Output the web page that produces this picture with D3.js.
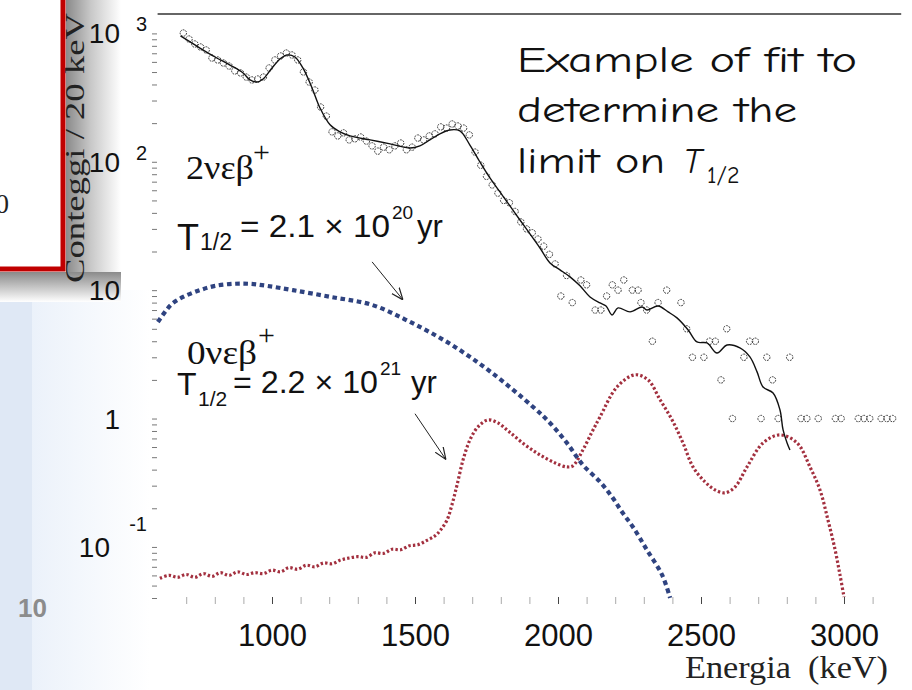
<!DOCTYPE html>
<html><head><meta charset="utf-8">
<script src="https://cdn.jsdelivr.net/npm/d3@7"></script>
<style>html,body{margin:0;padding:0;background:#fff;} svg{display:block;}</style>
</head><body>
<svg id="chart" width="912" height="690"></svg>
<script>
// ---------- data ----------
const xTickValues = [700,800,900,1000,1100,1200,1300,1400,1500,1600,1700,1800,1900,2000,2100,2200,2300,2400,2500,2600,2700,2800,2900,3000,3100];
const xLabelValues = [1000,1500,2000,2500,3000];
const yDecades = [1000,100,10,1,0.1];
const yDecadeBase = ["10","10","10","1","10"];
const yDecadeExp = ["3","2","","","-1"];

// measured spectrum (counts / 20 keV)
const dataE = [690,710,730,750,770,790,810,830,850,870,890,910,930,950,970,990,1010,1030,1050,1070,1090,1110,1130,1150,1170,1190,1210,1230,1250,1270,1290,1310,1330,1350,1370,1390,1410,1430,1450,1470,1490,1510,1530,1550,1570,1590,1610,1630,1650,1670,1690,1710,1730,1750,1770,1790,1810,1830,1850,1870,1890,1910,1930,1950,1970,1990,
  2010,2030,2050,2080,2100,2130,2150,2170,2190,2210,2230,2260,2280,2290,2310,2330,2350,2380,2430,2450,2470,2510,2530,2550,2570,2590,2610,2650,2670,2690,2710,2730,2750,2770,2810,2850,2870,2910,2970,2990,3050,3070,3090,3130,3150,3170];
const dataV = [1007,904,827,784,743,643,621,588,557,510,492,457,434,441,457,538,621,667,703,679,621,501,418,362,267,227,171,159,168,148,151,156,145,133,121,130,124,133,140,124,130,153,148,159,165,187,183,197,190,183,162,119,94,77,66,57,50,48,41,34,30,28,25,22,19,16,
  9,13,8,12,11,7,7,9,11,10,12,10,10,8,7,4,8,10,8,5,3,3,4,4,2,5,1,3,4,4,1,3,2,1,3,1,1,1,1,1,1,1,1,1,1,1];

// fit
const fitE = [680,748,801,853,899,923,948,969,1000,1028,1052,1080,1108,1140,1168,1203,1238,1273,1343,1413,1483,1517,1552,1587,1622,1657,1692,1727,1762,1797,1832,1867,1902,1937,1972,2007,2042,2077,2112,2147,2168,2189,2210,2252,2294,2311,2350,2385,2416,2455,2486,2521,2556,2591,2636,2671,2696,2717,2752,2776,2787,2801,2811];
const fitV = [955,769,655,567,492,434,418,441,538,632,679,655,538,376,262,194,171,159,148,138,128,133,148,165,177,174,135,99.6,74.8,58.2,45.3,35.2,27.4,21.3,16.3,14.4,12.7,10.8,8.85,7.95,7.53,6.41,7.27,6.77,7.40,7.01,7.53,6.77,6.08,4.90,3.95,3.88,3.24,3.74,3.55,3.02,2.31,1.76,1.58,1.17,0.815,0.645,0.569];

// 2 nu EC beta+ (T1/2 = 2.1e20 yr)
const twoNuE = [601,626,650,689,748,801,864,923,983,1073,1206,1350,1490,1629,1769,1913,1972,2031,2087,2147,2189,2224,2262,2311,2364,2392];
const twoNuV = [5.65,6.77,7.81,8.85,10.0,10.8,11.2,11.2,10.8,10.0,8.85,7.67,5.55,3.74,2.27,1.23,0.924,0.646,0.435,0.321,0.245,0.187,0.143,0.0947,0.0605,0.0401];

// 0 nu EC beta+ (T1/2 = 2.2e21 yr)
const zeroNuE = [608,640,670,700,730,760,790,820,850,880,910,940,970,1000,1030,1060,1090,1120,1150,1180,1210,1240,1270,1300,1330,1360,1390,1420,1450,1480,1510,1540,1570,1590,1612,1629,1647,1668,1692,1720,1755,1790,1830,1885,1937,1990,2031,2052,2087,2119,2147,2206,2269,2315,2357,2399,2437,2472,2514,2549,2584,2619,2661,2717,2776,2836,2881,2916,2944,2969,2986,3000];
const zeroNuV = [0.057,0.060,0.058,0.061,0.058,0.062,0.059,0.063,0.060,0.064,0.061,0.063,0.062,0.066,0.064,0.069,0.067,0.072,0.070,0.075,0.074,0.079,0.082,0.084,0.083,0.090,0.089,0.096,0.095,0.102,0.104,0.112,0.122,0.136,0.162,0.212,0.304,0.476,0.681,0.861,0.975,0.924,0.787,0.623,0.521,0.451,0.420,0.428,0.569,0.787,1.03,1.76,2.19,2.0,1.40,0.975,0.646,0.420,0.321,0.278,0.264,0.293,0.420,0.646,0.745,0.646,0.420,0.278,0.162,0.0947,0.0605,0.0408];

// annotation arrows (data coords: from -> to)
const arrowFromE = [1350,1500], arrowFromV = [16.6,1.09];
const arrowToE = [1458,1608],  arrowToV = [8.4,0.48];

// ---------- drawing ----------
const svg = d3.select("#chart");
const defs = svg.append("defs");

// slide decorations
const gShadowR = defs.append("linearGradient").attr("id","shR").attr("x1","0").attr("x2","1").attr("y1","0").attr("y2","0");
gShadowR.append("stop").attr("offset","0").attr("stop-color","#8a8a8a");
gShadowR.append("stop").attr("offset","0.45").attr("stop-color","#c8c8c8");
gShadowR.append("stop").attr("offset","1").attr("stop-color","#ffffff");
const gShadowB = defs.append("linearGradient").attr("id","shB").attr("x1","0").attr("x2","0").attr("y1","0").attr("y2","1");
gShadowB.append("stop").attr("offset","0").attr("stop-color","#8a8a8a");
gShadowB.append("stop").attr("offset","1").attr("stop-color","#ffffff");
const gBlue = defs.append("linearGradient").attr("id","blueL").attr("x1","0").attr("x2","1").attr("y1","0").attr("y2","0");
gBlue.append("stop").attr("offset","0").attr("stop-color","#e6eef9");
gBlue.append("stop").attr("offset","1").attr("stop-color","#ffffff");

svg.append("rect").attr("x",0).attr("y",290).attr("width",150).attr("height",400).attr("fill","url(#blueL)");
svg.append("rect").attr("x",0).attr("y",290).attr("width",32).attr("height",400).attr("fill","#dfe8f5");
svg.append("rect").attr("x",66).attr("y",0).attr("width",55).attr("height",300).attr("fill","url(#shR)");
svg.append("rect").attr("x",0).attr("y",272).attr("width",121).attr("height",30).attr("fill","url(#shB)");
svg.append("rect").attr("x",-10).attr("y",-10).attr("width",73).attr("height",279).attr("fill","#fff").attr("stroke","#c00000").attr("stroke-width",5);
svg.append("text").attr("x",9).attr("y",213).attr("text-anchor","end").attr("font-family","Liberation Serif").attr("font-size",27).attr("fill","#222").text("0");
svg.append("text").attr("x",18).attr("y",617).attr("font-family","Liberation Sans").attr("font-weight","bold").attr("font-size",26).attr("fill","#8c8c8c").text("10");

const x = d3.scaleLinear().domain([600,3200]).range([157.6,901.2]);
const y = d3.scaleLog().domain([0.0386,1416]).range([600,14]);

// top frame line
svg.append("line").attr("x1",x(600)).attr("x2",x(3200)).attr("y1",y(1416)).attr("y2",y(1416)).attr("stroke","#333").attr("stroke-width",1.6);

// x ticks
const xt = svg.append("g").attr("transform","translate(0,597)")
  .call(d3.axisBottom(x).tickValues(xTickValues).tickSize(7).tickFormat(""));
xt.select(".domain").remove();
xt.selectAll(".tick line").attr("stroke",d=>d%500===0?"#444":"#aaa").attr("stroke-width",1);

const xl = svg.append("g").attr("transform","translate(0,597)")
  .call(d3.axisBottom(x).tickValues(xLabelValues).tickSize(0).tickPadding(27).tickFormat(d3.format("d")));
xl.select(".domain").remove();
xl.selectAll("text").attr("font-family","Liberation Sans").attr("font-size",31).attr("fill","#111");

// y ticks
const yt = svg.append("g").attr("transform","translate(157,0)")
  .call(d3.axisLeft(y).tickValues(y.ticks()).tickSize(5).tickFormat(""));
yt.select(".domain").remove();
yt.selectAll(".tick line").attr("stroke","#777").attr("stroke-width",1);

// y decade labels
yDecades.forEach((v,i)=>{
  const yy = y(v);
  const hasExp = yDecadeExp[i] !== "";
  const endX = (v===0.1) ? 110 : 120;
  svg.append("text").attr("x",endX).attr("y",yy+10).attr("text-anchor","end")
    .attr("font-family","Liberation Sans").attr("font-size",28).attr("fill","#111").text(yDecadeBase[i]);
  if (hasExp) {
    svg.append("text").attr("x",147).attr("y", v===0.1 ? yy-16 : yy-2).attr("text-anchor","end")
      .attr("font-family","Liberation Sans").attr("font-size",20).attr("fill","#111").text(yDecadeExp[i]);
  }
});

// axis titles
svg.append("text").attr("transform","translate(84,148) rotate(-90)").attr("text-anchor","middle")
  .attr("font-family","Liberation Serif").attr("font-size",28).attr("fill","#222")
  .attr("textLength",270).attr("lengthAdjust","spacingAndGlyphs").text("Conteggi / 20 keV");
svg.append("text").attr("x",888).attr("y",678).attr("text-anchor","end")
  .attr("font-family","Liberation Serif").attr("font-size",31).attr("fill","#222")
  .attr("textLength",203).attr("lengthAdjust","spacingAndGlyphs")
  .text("Energia\u00a0\u00a0(keV)");

const line = d3.line().x(d=>x(d[0])).y(d=>y(d[1])).curve(d3.curveCatmullRom.alpha(0.5));

// curves
svg.append("path").datum(zeroNuE.map((e,i)=>[e,zeroNuV[i]])).attr("d",line)
  .attr("fill","none").attr("stroke","#a3303f").attr("stroke-width",3.2).attr("stroke-dasharray","2.4,2.2");
svg.append("path").datum(twoNuE.map((e,i)=>[e,twoNuV[i]])).attr("d",line)
  .attr("fill","none").attr("stroke","#2f4380").attr("stroke-width",4.2).attr("stroke-dasharray","4.6,3.6");

// data points
svg.append("g").selectAll("circle").data(dataE.map((e,i)=>[e,dataV[i]])).join("circle")
  .attr("cx",d=>x(d[0])).attr("cy",d=>y(d[1])).attr("r",3.2)
  .attr("fill","none").attr("stroke","#333").attr("stroke-width",1).attr("stroke-dasharray","1.8,1");

// fit
svg.append("path").datum(fitE.map((e,i)=>[e,fitV[i]])).attr("d",line)
  .attr("fill","none").attr("stroke","#111").attr("stroke-width",1.4);

// arrows
defs.append("marker").attr("id","arr").attr("viewBox","0 0 10 10").attr("refX",10).attr("refY",5)
  .attr("markerWidth",12).attr("markerHeight",12).attr("orient","auto").attr("markerUnits","userSpaceOnUse")
  .append("path").attr("d","M0,1 L10,5 L0,9").attr("fill","none").attr("stroke","#222").attr("stroke-width",1);
arrowFromE.forEach((e,i)=>{
  svg.append("line").attr("x1",x(e)).attr("y1",y(arrowFromV[i])).attr("x2",x(arrowToE[i])).attr("y2",y(arrowToV[i]))
    .attr("stroke","#222").attr("stroke-width",1).attr("marker-end","url(#arr)");
});

// annotation texts
function txt(xp,yp,s,size,fam,extra){
  const t = svg.append("text").attr("x",xp).attr("y",yp).attr("font-family",fam).attr("font-size",size).attr("fill","#111").text(s);
  if (extra) extra(t);
  return t;
}
const SANS="Liberation Sans", SERIF="Liberation Serif";
txt(186,179,"2νεβ",34,SERIF,t=>t.attr("textLength",68).attr("lengthAdjust","spacingAndGlyphs"));
txt(253,162,"+",30,SERIF);
txt(177,250,"T",36,SANS);
txt(200,250,"1/2",23,SANS);
txt(240,237,"= 2.1 × 10",31,SANS,t=>t.attr("textLength",150).attr("lengthAdjust","spacingAndGlyphs"));
txt(392,219,"20",19,SANS);
txt(417,237,"yr",31,SANS);

txt(187,364,"0νεβ",34,SERIF,t=>t.attr("textLength",70).attr("lengthAdjust","spacingAndGlyphs"));
txt(258,345,"+",30,SERIF);
txt(177,395,"T",32,SANS);
txt(198,406,"1/2",21,SANS);
txt(233,393,"= 2.2 × 10",31,SANS,t=>t.attr("textLength",145).attr("lengthAdjust","spacingAndGlyphs"));
txt(380,375,"21",19,SANS);
txt(411,393,"yr",31,SANS);

const CS = "'Comic Sans MS','Comic Neue','DejaVu Sans',sans-serif";
txt(517,72,"Example of fit to",36,CS,t=>t.attr("textLength",340).attr("lengthAdjust","spacingAndGlyphs"));
txt(517,122,"determine the",36,CS,t=>t.attr("textLength",280).attr("lengthAdjust","spacingAndGlyphs"));
txt(517,173,"limit on",36,CS,t=>t.attr("textLength",148).attr("lengthAdjust","spacingAndGlyphs"));
txt(683,173,"T",36,CS,t=>t.attr("font-style","italic"));
txt(707,183,"1/2",24,CS);
</script>
</body></html>
